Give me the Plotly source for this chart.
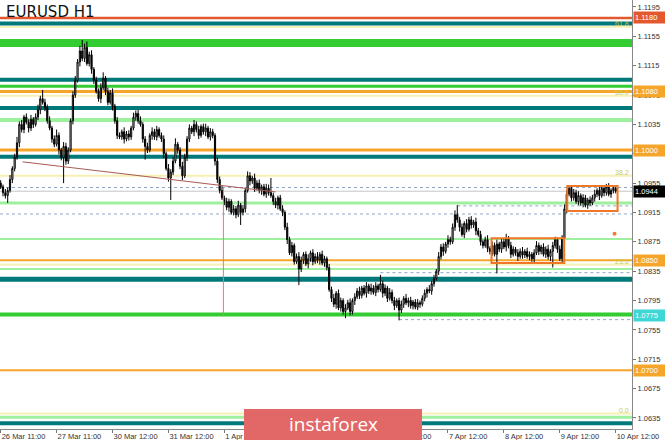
import plotly.graph_objects as go

# ---------------- data (prices in pips, 1 pip = 0.0001) ----------------
open0 = 10955
close_pips = [
    10950,10942,10938,10945,10960,10975,10990,11010,11035,11028,11045,11038,11030,11042,11035,11045,11055,11070,11065,11058,
    11040,11030,11015,11008,11020,11000,10990,11005,10985,11000,11040,11075,11095,11120,11135,11125,11140,11118,11130,11110,
    11095,11080,11070,11085,11098,11080,11065,11078,11060,11040,11020,11018,11025,11015,11022,11018,11030,11045,11050,11040,
    11035,11015,11005,11000,11020,11025,11018,11028,11020,11015,10995,10975,10962,10970,10985,11008,11000,10978,10965,10990,
    11015,11030,11025,11035,11028,11020,11032,11025,11030,11018,11025,11020,10985,10960,10945,10935,10930,10922,10930,10915,
    10920,10912,10925,10915,10920,10945,10965,10958,10962,10948,10955,10945,10950,10940,10948,10942,10938,10930,10925,10935,
    10920,10915,10895,10878,10860,10870,10848,10855,10838,10850,10858,10845,10852,10860,10848,10855,10850,10858,10846,10852,
    10840,10810,10798,10790,10805,10785,10795,10780,10785,10792,10780,10795,10800,10808,10802,10812,10805,10815,10808,10812,
    10806,10815,10810,10818,10805,10812,10798,10806,10795,10788,10795,10782,10790,10798,10792,10795,10788,10793,10786,10792,
    10790,10798,10805,10810,10808,10818,10825,10835,10855,10868,10862,10872,10878,10875,10895,10912,10905,10895,10885,10900,
    10892,10905,10898,10902,10890,10885,10875,10870,10878,10866,10862,10870,10858,10872,10865,10875,10868,10880,10870,10858,
    10865,10860,10855,10862,10857,10862,10855,10858,10852,10860,10870,10862,10868,10858,10865,10855,10862,10870,10878,10865,
    10852,10880,10920,10940,10948,10935,10942,10930,10938,10928,10935,10925,10932,10928,10935,10940,10945,10938,10948,10942,
    10950,10940,10945,10948,10944,
]
wick_up = [
    4,3,5,4,6,3,5,8,4,6,3,5,4,6,3,5,7,4,12,5,
    4,6,3,5,8,4,3,6,5,4,3,5,6,4,7,15,5,8,4,6,
    3,5,4,6,8,3,5,4,6,3,5,4,3,6,4,5,3,6,4,5,
    6,3,4,5,3,6,4,5,3,4,5,3,6,4,5,8,3,4,6,5,
    4,5,3,6,4,5,3,4,6,3,5,4,3,5,4,6,3,5,4,3,
    5,4,6,3,5,4,6,5,3,6,4,5,3,4,6,5,20,4,5,3,
    4,5,3,6,4,5,3,4,6,5,3,4,6,3,5,4,6,3,5,4,
    3,5,4,6,3,5,4,3,5,4,6,3,5,4,6,3,4,5,3,6,
    4,5,3,12,4,5,3,6,4,5,3,4,5,3,6,4,5,3,4,5,
    3,4,5,3,6,4,5,3,6,4,5,3,6,4,5,6,13,4,5,3,
    6,4,5,3,6,4,5,3,4,6,3,5,4,6,3,5,4,6,3,5,
    4,3,5,4,6,3,5,4,3,5,6,4,3,5,4,6,3,5,4,3,
    5,4,6,5,4,3,5,4,6,3,5,4,3,5,4,6,3,5,4,3,
    4,5,3,4,3,
]
wick_dn = [
    3,5,4,10,3,5,4,3,6,4,5,3,6,4,5,3,4,6,3,5,
    4,3,5,4,3,6,4,35,5,4,3,5,4,3,6,4,5,3,4,6,
    5,3,4,6,3,5,4,3,6,4,5,3,4,6,3,5,4,3,5,4,
    3,5,18,4,3,6,4,5,3,4,6,3,5,30,4,3,5,4,6,3,
    5,4,3,6,4,5,3,4,6,3,5,4,6,5,4,3,5,4,6,3,
    4,5,3,17,4,5,3,6,4,5,3,4,6,3,5,4,3,5,4,6,
    3,5,4,6,3,5,4,3,22,4,5,3,6,4,5,3,4,6,3,5,
    4,3,5,4,6,3,5,4,9,3,5,4,6,3,5,4,3,6,4,5,
    3,5,4,3,6,4,5,3,4,6,3,14,4,5,3,6,4,5,3,4,
    5,3,4,6,3,5,4,3,5,4,6,3,5,4,3,5,4,6,3,5,
    4,3,5,4,6,3,5,4,3,5,4,6,3,26,4,5,3,6,4,5,
    3,4,6,3,5,4,3,5,4,6,3,5,4,3,5,4,6,22,4,5,
    3,5,4,6,3,5,4,3,5,4,6,3,5,4,3,5,4,6,3,5,
    4,3,5,4,3,
]

x_tick_idx = [0, 24, 48, 72, 96, 120, 144, 168, 192, 216, 240, 264]
x_tick_text = ["26 Mar 11:00", "27 Mar 11:00", "30 Mar 12:00", "31 Mar 12:00", "1 Apr 12:00",
               "", "", "6 Apr 12:00", "7 Apr 12:00", "8 Apr 12:00",
               "9 Apr 12:00", "10 Apr 12:00"]
y_tick_vals = [1.0635, 1.0675, 1.0715, 1.0755, 1.0795, 1.0835, 1.0875, 1.0915,
               1.0955, 1.0995, 1.1035, 1.1075, 1.1115, 1.1155, 1.1195]
y_tick_text = ["1.0635", "1.0675", "1.0715", "1.0755", "1.0795", "1.0835", "1.0875", "1.0915",
               "1.0955", "1.0995", "1.1035", "1.1075", "1.1115", "1.1155", "1.1195"]

# horizontal levels
red_levels = [1.1180]
teal_levels = [1.11725, 1.1096, 1.10575, 1.0991, 1.0824, 1.0628]
green_levels = [1.1146, 1.1087, 1.0776]
lightgreen_levels = [1.1041, 1.0928, 1.0879, 1.0838, 1.0636]
orange_levels = [1.1080, 1.1000, 1.0850, 1.0700]
fib_levels = [1.1168, 1.1074, 1.0965, 1.0844, 1.0641]
fib_names = ["61.8", "50.0", "38.2", "23.6", "0.0"]
bid_price = 1.0944
dotted_full = [1.0949, 1.0913]
dotted_partial_start = [196, 163, 171]
dotted_partial_price = [1.0924, 1.0833, 1.0769]

trend_x = [9.4, 118.0]
trend_y = [1.0984, 1.0943]
vline_x = [95.6, 95.6]
vline_y = [1.0950, 1.0775]
box_x0 = [210.7, 243.2]
box_x1 = [241.9, 264.8]
box_lo = [1.0846, 1.0917]
box_hi = [1.0880, 1.0951]
dot_x = [263.5]
dot_y = [1.0886]

price_labels = [1.1180, 1.1080, 1.1000, 1.0944, 1.0850, 1.0775, 1.0700]
price_label_text = ["1.1180", "1.1080", "1.1000", "1.0944", "1.0850", "1.0775", "1.0700"]
price_label_kind = ["red", "orange", "orange", "bid", "orange", "cyan", "orange"]

# ---------------- styles ----------------
C_RED = "#e4582e"
C_TEAL = "#00797a"
C_GREEN = "#33cc33"
C_LGREEN = "#9ef09e"
C_ORANGE = "#f4a52a"
C_FIB = "#f6f1b2"
C_DOT = "#8ea6c6"
label_bg = {"red": C_RED, "orange": C_ORANGE, "bid": "#000000", "cyan": "#3fd6d6"}
teal_w = [4, 4, 4, 4, 5, 4]
green_w = [8, 3, 4]
lgreen_w = [4, 3, 2, 2, 3]
orange_w = [3, 3, 2, 2]
TICKFONT = dict(family="Liberation Sans", size=7.5, color="#333333")

# ---------------- build ----------------
n = len(close_pips)
assert len(wick_up) == n and len(wick_dn) == n, (n, len(wick_up), len(wick_dn))
opens = [open0] + close_pips[:-1]
highs = [max(o, c) + w for o, c, w in zip(opens, close_pips, wick_up)]
lows = [min(o, c) - w for o, c, w in zip(opens, close_pips, wick_dn)]
idx = list(range(n))
P = lambda arr: [v / 10000 for v in arr]

X_END = 271
fig = go.Figure()
fig.add_trace(go.Candlestick(
    x=idx, open=P(opens), high=P(highs), low=P(lows), close=P(close_pips),
    increasing=dict(line=dict(color="black", width=1), fillcolor="white"),
    decreasing=dict(line=dict(color="black", width=1), fillcolor="black"),
    whiskerwidth=0, hoverinfo="skip"))
fig.add_trace(go.Scatter(x=trend_x, y=trend_y, mode="lines",
                         line=dict(color="#a85a55", width=1), hoverinfo="skip"))
fig.add_trace(go.Scatter(x=vline_x, y=vline_y, mode="lines",
                         line=dict(color="#e57a7a", width=1), hoverinfo="skip"))
fig.add_trace(go.Scatter(x=dot_x, y=dot_y, mode="markers",
                         marker=dict(color="#f07a35", size=4), hoverinfo="skip"))

shapes = []
def hline(y, color, width, dash="solid"):
    shapes.append(dict(type="line", xref="paper", yref="y", x0=0, x1=1, y0=y, y1=y,
                       line=dict(color=color, width=width, dash=dash), layer="below"))

for y in fib_levels:
    hline(y, C_FIB, 2)
for y, w in zip(lightgreen_levels, lgreen_w):
    hline(y, C_LGREEN, w)
for y, w in zip(orange_levels, orange_w):
    hline(y, C_ORANGE, w)
for y, w in zip(green_levels, green_w):
    hline(y, C_GREEN, w)
for y, w in zip(teal_levels, teal_w):
    hline(y, C_TEAL, w)
for y in red_levels:
    hline(y, C_RED, 2.5)
hline(bid_price, "#c4c4c4", 1)
for y in dotted_full:
    hline(y, C_DOT, 1, "dot")
for xs, y in zip(dotted_partial_start, dotted_partial_price):
    shapes.append(dict(type="line", xref="x", yref="y", x0=xs, x1=X_END, y0=y, y1=y,
                       line=dict(color=C_DOT, width=1, dash="dot"), layer="below"))
for a, b, lo, hi in zip(box_x0, box_x1, box_lo, box_hi):
    shapes.append(dict(type="rect", xref="x", yref="y", x0=a, x1=b, y0=lo, y1=hi,
                       line=dict(color="#f07628", width=2), fillcolor="rgba(0,0,0,0)", layer="above"))
# watermark banner
shapes.append(dict(type="rect", xref="paper", yref="paper", x0=244 / 632, x1=422 / 632,
                   y0=-11 / 429, y1=20 / 429, line=dict(width=0), fillcolor="#e26868", layer="above"))

annotations = []
for p, t, k in zip(price_labels, price_label_text, price_label_kind):
    annotations.append(dict(x=1, xref="paper", y=p, yref="y", xanchor="left", yanchor="middle",
                            xshift=1, text=t, showarrow=False, bgcolor=label_bg[k], borderpad=1,
                            width=30, align="left",
                            font=dict(family="Liberation Sans", size=7.5, color="white")))
for p, t in zip(fib_levels, fib_names):
    annotations.append(dict(x=1, xref="paper", y=p, yref="y", xanchor="right", yanchor="bottom",
                            xshift=-1, yshift=-2, text=t, showarrow=False,
                            font=dict(family="Liberation Sans", size=7, color="#cccc44")))
annotations.append(dict(x=0, xref="paper", y=1, yref="paper", xanchor="left", yanchor="top",
                        xshift=4, yshift=-1, text="EURUSD H1", showarrow=False,
                        font=dict(family="DejaVu Sans", size=15, color="#111111")))
annotations.append(dict(x=333 / 632, xref="paper", y=5 / 429, yref="paper", xanchor="center",
                        yanchor="middle", text="instaforex", showarrow=False,
                        font=dict(family="Open Sans", size=19, color="white")))

fig.update_layout(
    width=665, height=440, margin=dict(l=0, r=33, t=0, b=11),
    paper_bgcolor="white", plot_bgcolor="white", showlegend=False,
    shapes=shapes, annotations=annotations,
    xaxis=dict(range=[-0.3, X_END], tickvals=x_tick_idx, ticktext=x_tick_text,
               ticks="outside", ticklen=3, tickcolor="#777", ticklabelposition="outside right",
               tickfont=TICKFONT, showgrid=False, zeroline=False, showline=True,
               linecolor="#888", rangeslider=dict(visible=False), fixedrange=True),
    yaxis=dict(range=[1.0620, 1.12045], side="right", tickvals=y_tick_vals, ticktext=y_tick_text,
               ticks="outside", ticklen=3, tickcolor="#777", tickfont=TICKFONT,
               showgrid=False, zeroline=False, showline=True, linecolor="#888", fixedrange=True),
)
fig.write_html("out.html", config={"displayModeBar": False},
               post_script="document.body.style.margin='0';document.body.style.overflow='hidden';")
